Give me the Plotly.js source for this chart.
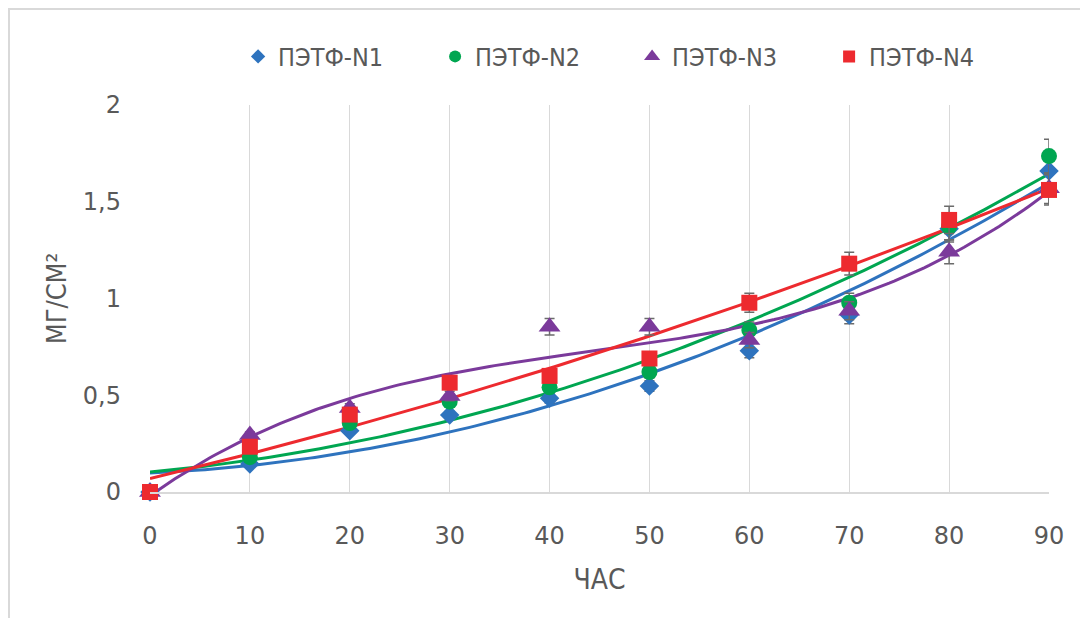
<!DOCTYPE html>
<html>
<head>
<meta charset="utf-8">
<script src="https://cdn.plot.ly/plotly-3.0.1.min.js"></script>
<style>
  html, body { margin: 0; padding: 0; background: #ffffff; }
  #frame { position: absolute; left: 8px; top: 8px; width: 1072px; height: 610px;
           border-top: 2px solid #d9d9d9; border-left: 2px solid #d9d9d9; }
  #chart { position: absolute; left: 0; top: 0; width: 1080px; height: 618px; }
</style>
</head>
<body>
<div id="frame"></div>
<div id="chart"></div>
<script>
// ---- data ----
const hours = [0, 10, 20, 30, 40, 50, 60, 70, 80, 90];
const seriesNames = ["ПЭТФ-N1", "ПЭТФ-N2", "ПЭТФ-N3", "ПЭТФ-N4"];
const n1 = [0, 0.145, 0.317, 0.398, 0.484, 0.548, 0.73, 0.915, 1.36, 1.659];
const n2 = [0, 0.18, 0.356, 0.467, 0.541, 0.62, 0.837, 0.978, 1.371, 1.736];
const n3 = [0, 0.295, 0.434, 0.496, 0.854, 0.854, 0.785, 0.937, 1.242, 1.57];
const n4 = [0, 0.234, 0.40, 0.565, 0.60, 0.69, 0.978, 1.18, 1.406, 1.561];
const errorPercent = 5;
const trendOrder = [2, 2, 3, 2];
const xTicks = [0, 10, 20, 30, 40, 50, 60, 70, 80, 90];
const yTicks = [0, 0.5, 1, 1.5, 2];
const yTickText = ["0", "0,5", "1", "1,5", "2"];

const colors = ["#2E73BE", "#00A651", "#7B3A9B", "#ED2A2F"];
const symbols = ["diamond", "circle", "triangle-up", "square"];
const sizes = [15, 16, 19, 16];
const legendSizes = [11, 12, 14, 12];
const allSeries = [n1, n2, n3, n4];

// least-squares polynomial fit (Excel-style polynomial trendline)
function polyfit(xs, ys, order) {
  const m = order + 1;
  const A = [];
  for (let i = 0; i < m; i++) {
    A.push(new Array(m + 1).fill(0));
  }
  for (let k = 0; k < xs.length; k++) {
    for (let i = 0; i < m; i++) {
      for (let j = 0; j < m; j++) A[i][j] += Math.pow(xs[k], i + j);
      A[i][m] += ys[k] * Math.pow(xs[k], i);
    }
  }
  for (let i = 0; i < m; i++) {
    let p = i;
    for (let r = i + 1; r < m; r++) if (Math.abs(A[r][i]) > Math.abs(A[p][i])) p = r;
    [A[i], A[p]] = [A[p], A[i]];
    for (let r = 0; r < m; r++) {
      if (r === i) continue;
      const f = A[r][i] / A[i][i];
      for (let c = i; c <= m; c++) A[r][c] -= f * A[i][c];
    }
  }
  return A.map((row, i) => row[m] / row[i]);
}
function polyval(c, x) { return c.reduce((s, ci, i) => s + ci * Math.pow(x, i), 0); }

const traces = [];
const xs = [];
for (let x = hours[0]; x <= hours[hours.length - 1]; x += 0.5) xs.push(x);

allSeries.forEach((ys, i) => {
  const c = polyfit(hours, ys, trendOrder[i]);
  traces.push({
    x: xs, y: xs.map(x => polyval(c, x)), mode: "lines", type: "scatter",
    line: { color: colors[i], width: 3 }, showlegend: false, hoverinfo: "skip"
  });
});
allSeries.forEach((ys, i) => {
  traces.push({
    x: hours, y: ys, mode: "markers", type: "scatter", name: seriesNames[i],
    marker: { symbol: symbols[i], color: colors[i], size: sizes[i] },
    error_y: { type: "percent", value: errorPercent, color: "#6b6b6b", thickness: 1.5, width: 5 },
    showlegend: false, cliponaxis: false
  });
});
// legend entries (smaller symbols, as in the reference legend)
allSeries.forEach((ys, i) => {
  traces.push({
    x: [null], y: [null], mode: "markers", type: "scatter", name: seriesNames[i],
    marker: { symbol: symbols[i], color: colors[i], size: legendSizes[i] }
  });
});

const tickFont = { family: "DejaVu Sans", size: 24, color: "#595959" };
const layout = {
  width: 1080, height: 618,
  margin: { l: 150, r: 31, t: 105, b: 126 },
  paper_bgcolor: "rgba(0,0,0,0)", plot_bgcolor: "rgba(0,0,0,0)",
  showlegend: true,
  legend: {
    orientation: "h", x: 0.098, xanchor: "left", y: 1.125, yanchor: "middle",
    font: { family: "DejaVu Sans Condensed", size: 25, color: "#595959" },
    entrywidth: 152, entrywidthmode: "pixels", itemwidth: 30
  },
  xaxis: {
    range: [0, 90], tickvals: xTicks, ticktext: xTicks.map(String),
    showgrid: true, gridcolor: "#d9d9d9", gridwidth: 1,
    showline: true, linecolor: "#d9d9d9", linewidth: 1.5,
    zeroline: false, ticks: "", ticklabelstandoff: 22, tickfont: tickFont,
    title: { text: "ЧАС", font: { family: "DejaVu Sans Condensed", size: 28, color: "#595959" }, standoff: 20 }
  },
  yaxis: {
    range: [0, 2], tickvals: yTicks, ticktext: yTickText,
    showgrid: false, zeroline: false, showline: false, ticks: "",
    ticklabelstandoff: 28, tickfont: tickFont,
    title: { text: "МГ/СМ²", font: { family: "DejaVu Sans Condensed", size: 27, color: "#595959" }, standoff: 8 }
  }
};
Plotly.newPlot("chart", traces, layout, { displayModeBar: false, staticPlot: true });
</script>
</body>
</html>
